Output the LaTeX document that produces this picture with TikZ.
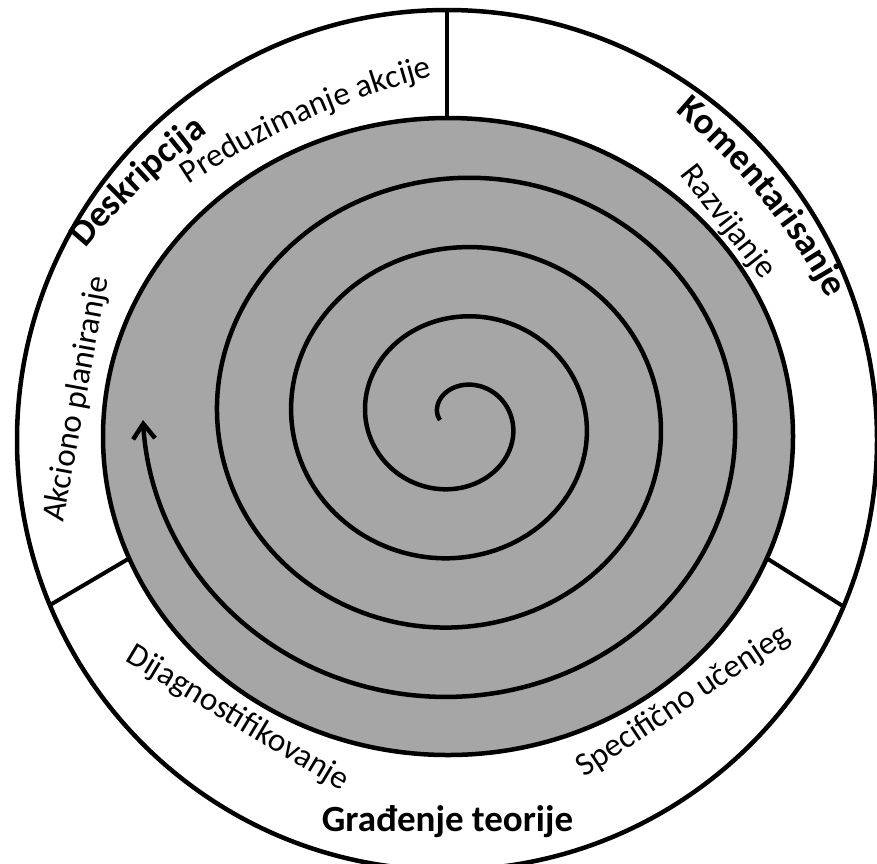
\documentclass[tikz,border=0pt]{standalone}
\usepackage{fontspec}
\setmainfont{Carlito}
\usetikzlibrary{decorations.text, arrows.meta}

\definecolor{nucleogris}{RGB}{166,166,166}
\newcommand{\negrita}{\fontsize{37}{44}\selectfont\bfseries}
\newcommand{\normalita}{\fontsize{33}{40}\selectfont}

\begin{document}
\begin{tikzpicture}[
    x=1pt, y=1pt,
    % Estilo para los bordes de los anillos
    borde/.style={line width=4.5pt},
    % Estilo para el nucleo gris
    nucleo/.style={fill=nucleogris, line width=4.5pt},
    % Estilo para la espiral
    espiral/.style={line width=4.5pt, -{Straight Barb[length=15pt, width=22pt]}},
    % Estilo para el texto curvado
    rotulo/.style={decorate, decoration={text along path, text align=center, text={#1}}},
    % Estilo para el texto casi recto
    etiqueta/.style={font=\normalita, anchor=base, inner sep=0pt}
]
    \useasboundingbox (0,0) rectangle (877,-863);
    \clip (0,0) rectangle (877,-863);

    % ==========================================
    % ANILLO EXTERIOR Y SEPARADORES
    % ==========================================
    \draw[borde, fill=white] (447,-440) circle[radius=430pt];

    \coordinate (sep_arriba) at (447,-10);
    \coordinate (sep_arriba_in) at (447,-140);
    \coordinate (sep_izq) at (50,-605);
    \coordinate (sep_izq_in) at (140,-552);
    \coordinate (sep_der) at (843.5,-606.5);
    \coordinate (sep_der_in) at (752,-549);

    \draw[borde, line width=4pt] (sep_arriba) -- (sep_arriba_in);
    \draw[borde, line width=4pt] (sep_izq) -- (sep_izq_in);
    \draw[borde, line width=4pt] (sep_der) -- (sep_der_in);

    % ==========================================
    % NUCLEO GRIS CON LA ESPIRAL
    % ==========================================
    \draw[nucleo] (448,-436.5) ellipse[x radius=345pt, y radius=318.5pt];

    % Espiral de Arquimedes (sale del centro, termina con flecha a la izquierda)
    \draw[espiral] plot[domain=0:1440, samples=481, variable=\t, smooth]
        ({457.5+(17.5+0.20625*\t)*cos(180-\t)}, {-420+0.935*(17.5+0.20625*\t)*sin(180-\t)});

    % ==========================================
    % TEXTOS DEL ANILLO
    % ==========================================
    % Arriba a la izquierda (curvados)
    \path[rotulo={|\negrita|Deskripcija}, shift={(623,-696.5)}]
        (142.3:700pt) arc[start angle=142.3, end angle=124.3, radius=700pt];
    \path[rotulo={|\normalita|Preduzimanje akcije}, shift={(630.3,-851.7)}]
        (124.9:800pt) arc[start angle=124.9, end angle=102.9, radius=800pt];

    % Derecha
    \path[rotulo={|\negrita|Komentarisanje}, shift={(256.7,-608.9)}]
        (52.2:650pt) arc[start angle=52.2, end angle=26.2, radius=650pt];
    \node[etiqueta, rotate=-51.9] (razvijanje) at (720.9,-227.7) {Razvijanje};

    % Izquierda
    \node[etiqueta, rotate=79.5] (akciono) at (85.8,-400.7) {Akciono planiranje};

    % Abajo
    \node[etiqueta, rotate=-31.1] (dijagnoza) at (233.3,-726.0) {Dijagnostifikovanje};
    \node[etiqueta, rotate=33.7] (specificno) at (688.3,-708.7) {Specifično učenjeg};

    \node[font=\negrita, anchor=base] (gradjenje) at (447.5,-831) {Građenje teorije};

\end{tikzpicture}
\end{document}
